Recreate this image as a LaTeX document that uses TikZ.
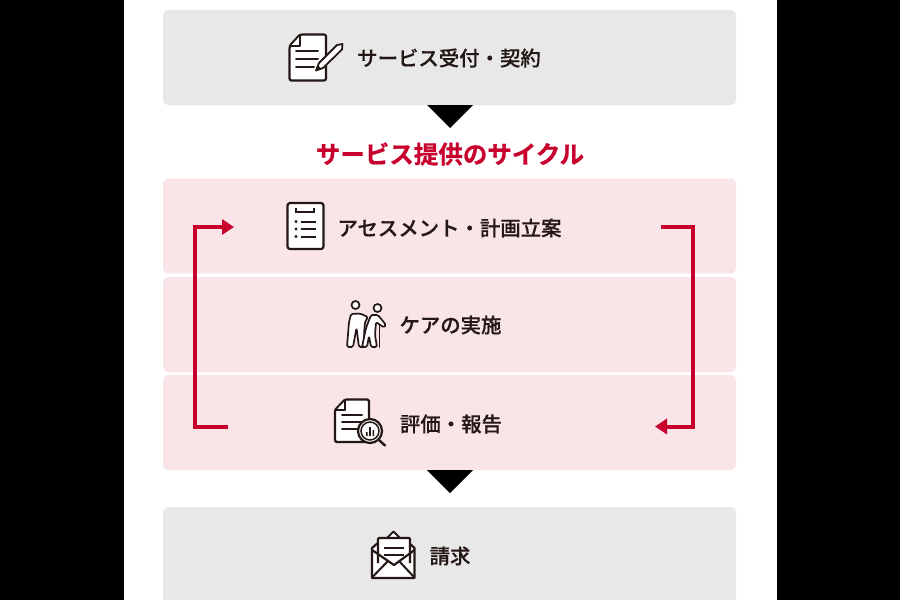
\documentclass[tikz,border=0pt]{standalone}
\usepackage{fontspec}
\setmainfont{Noto Sans CJK JP}
\newfontfamily\cjkmed[FakeBold=0.4]{Noto Sans CJK JP Medium}
\newfontfamily\cjkbold[FakeBold=0.6]{Noto Sans CJK JP Bold}
\usetikzlibrary{arrows.meta,positioning,calc}
\definecolor{ink}{HTML}{231815}
\definecolor{boxgray}{HTML}{E8E8E8}
\definecolor{boxpink}{HTML}{F9E5E8}
\definecolor{cyclered}{HTML}{C8002D}
\begin{document}
\begin{tikzpicture}[x=1pt,y=-1pt,
	stepgray/.style={rectangle,fill=boxgray,rounded corners=5pt,minimum width=573pt,minimum height=95pt,inner sep=0pt,outer sep=0pt},
	steppink/.style={stepgray,fill=boxpink},
	lbl/.style={text=ink,inner sep=0pt,font=\cjkmed\fontsize{20.4}{24}\selectfont},
	ttl/.style={text=cyclered,inner sep=0pt,font=\cjkbold\fontsize{24.5}{28}\selectfont},
	loopline/.style={draw=cyclered,line width=4pt,-{Triangle[length=12pt,width=15pt]}},
	ico/.style={draw=ink,line width=2.2pt,line join=round,fill=white},
	icl/.style={draw=ink,line width=2pt,line cap=round}]
	\path[use as bounding box,clip] (0,0) rectangle (900,600);
	\fill[white] (0,0) rectangle (900,600);
	\fill[black] (0,0) rectangle (124,600);
	\fill[black] (777,0) rectangle (900,600);
	% boxes
	\node (recv) [stepgray] at (449.5,57.5) {};
	\node (plan) [steppink] at (449.5,226) {};
	\node (care) [steppink] at (449.5,324.5) {};
	\node (eval) [steppink] at (449.5,422.5) {};
	\node (bill) [stepgray,minimum height=140pt] at (449.5,577) {};
	% labels
	\node (recvt) [lbl] at (449,58) {サービス受付・契約};
	\node (cyclet) [ttl] at (450,154) {サービス提供のサイクル};
	\node (plant) [lbl] at (449.5,228) {アセスメント・計画立案};
	\node (caret) [lbl] at (450.5,325) {ケアの実施};
	\node (evalt) [lbl] at (451,424) {評価・報告};
	\node (billt) [lbl] at (450,556) {請求};
	% triangles between the steps
	\fill[black] ($(recv.south)+(-22.5,0)$) -- ($(recv.south)+(23.5,0)$) -- ($(recv.south)+(0.5,23)$) -- cycle;
	\fill[black] ($(eval.south)+(-22.5,0)$) -- ($(eval.south)+(23.5,0)$) -- ($(eval.south)+(0.5,23)$) -- cycle;
	% loop arrows
	\coordinate (la) at (228,426.5);
	\coordinate (lb) at (234,227);
	\coordinate (ra) at (661,227);
	\coordinate (rb) at (655,426.5);
	\draw[loopline] (la) -- (195,426.5) -- (195,227) -- (lb);
	\draw[loopline] (ra) -- (693,227) -- (693,426.5) -- (rb);
	% contract icon
	\draw[ico,rounded corners=2pt] (300,34.5) -- (326,34.5) -- (326,80.5) -- (289.5,80.5) -- (289.5,46) -- cycle;
	\draw[ico,line width=1.6pt] (289.5,46) -- (300,46) -- (300,34.5) -- cycle;
	\draw[icl] (296,51) -- (318,51) (296,59) -- (318,59) (296,66.5) -- (314,66.5);
	\draw[ico,line width=1.8pt] (316,70.5) -- (319,63) -- (337,45) -- (342.5,44) -- (342,49.5) -- (323,68) -- cycle;
	\fill[ink] (316,70.5) -- (317.5,65) -- (321,68.5) -- cycle;
	% clipboard icon
	\draw[ico,rounded corners=2.5pt] (287.5,203) rectangle (323.5,249);
	\draw[icl,line cap=butt] (296,208) -- (296,212) -- (314,212) -- (314,208);
	\draw[icl,line cap=butt] (301,221.5) -- (316,221.5) (301,229) -- (316,229) (301,236.5) -- (316,236.5);
	\foreach \yy in {221.5,229,236.5}
		\fill[ink] (296,\yy) circle (1.7pt);
	% care icon
	\draw[ico,line width=1.7pt] (355.5,305) circle (4pt);
	\draw[ico,line width=1.7pt] (377.5,308) circle (4pt);
	\draw[ico,line width=1.7pt,rounded corners=1.5pt] (347,347) -- (349,322) -- (351,314) -- (360,313.5) -- (368,317) -- (365,322) -- (364,334) -- (365,347) -- (359,347) -- (356.5,328) -- (353,347) -- cycle;
	\draw[ico,line width=1.7pt,rounded corners=1.5pt] (362,347) -- (366,328) -- (371,315) -- (378,315) -- (386,325) -- (384,327.5) -- (376,322) -- (375,335) -- (377,347) -- (371,347) -- (369,336) -- (367,347) -- cycle;
	\draw[icl,line width=1.8pt] (379.5,326) -- (379.5,347);
	% report icon
	\draw[ico,rounded corners=1.5pt] (345,399.5) -- (369,399.5) -- (369,442) -- (335,442) -- (335,410) -- cycle;
	\draw[ico,line width=1.6pt] (335,410) -- (345,410) -- (345,399.5) -- cycle;
	\draw[icl] (342,415) -- (362,415) (342,422) -- (362,422) (342,429) -- (358,429);
	\draw[draw=ink,line width=2.4pt,line cap=round] (379,440) -- (385,445.5);
	\draw[ico] (370,431) circle (12pt);
	\draw[draw=ink,line width=1.5pt,fill=white] (370,431) circle (9pt);
	\fill[ink] (366,432) rectangle (367.5,436) (369,427) rectangle (370.8,436) (372.5,430) rectangle (374,436);
	% invoice icon
	\draw[ico] (372,548) -- (378,543) -- (409,543) -- (414.5,548) -- (414.5,578) -- (372,578) -- cycle;
	\draw[ico,line width=1.8pt] (387,538) -- (393.5,531.5) -- (400,538);
	\draw[ico,rounded corners=1pt] (378,563) -- (378,538) -- (410,538) -- (410,563);
	\draw[icl,line cap=butt] (384,548) -- (404,548) (384,555) -- (404,555);
	\draw[ico,fill=none] (372,550) -- (394,565) -- (414.5,550);
	\draw[icl] (372.5,577) -- (388,561) (414,577) -- (399,561);
\end{tikzpicture}
\end{document}
